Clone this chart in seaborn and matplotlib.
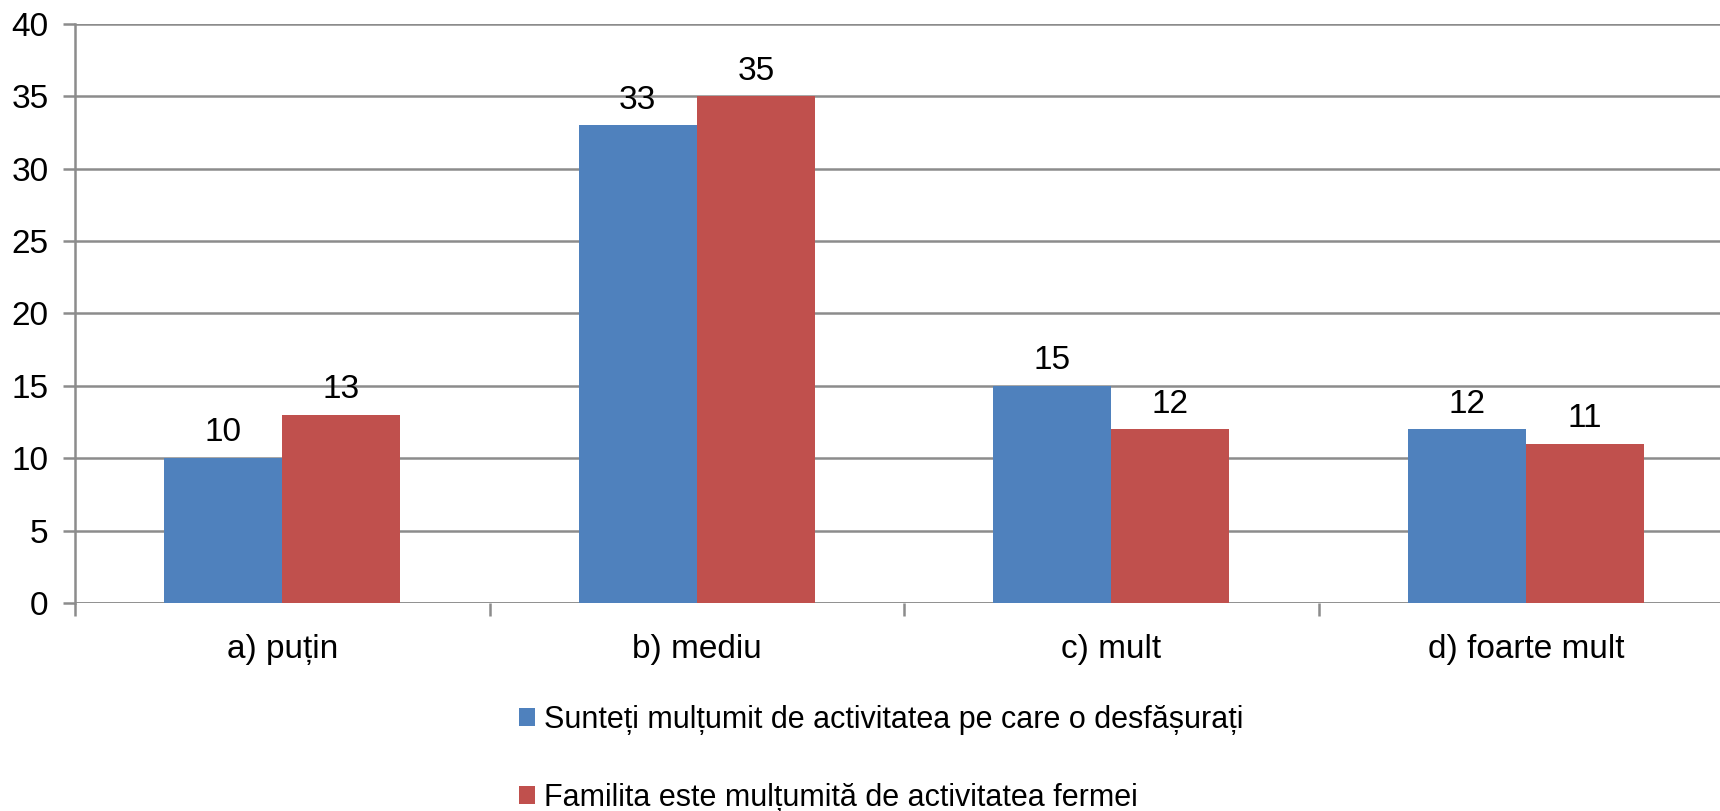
import matplotlib
matplotlib.use("Agg")
import matplotlib.pyplot as plt
from matplotlib.patches import Patch
from matplotlib.ticker import FixedLocator
import seaborn as sns
import pandas as pd

categories = ["a) puțin", "b) mediu", "c) mult", "d) foarte mult"]
series_names = [
    "Sunteți mulțumit de activitatea pe care o desfășurați",
    "Familita este mulțumită de activitatea fermei",
]
values_self = [10, 33, 15, 12]
values_family = [13, 35, 12, 11]
y_ticks = [0, 5, 10, 15, 20, 25, 30, 35, 40]

colors = ["#4F81BD", "#C0504D"]
grid_col = "#8C8C8C"

df = pd.DataFrame({
    "categorie": categories * 2,
    "serie": [series_names[0]] * 4 + [series_names[1]] * 4,
    "valoare": values_self + values_family,
})

sns.set_theme(style="white")
plt.rcParams["font.family"] = ["Liberation Sans", "DejaVu Sans"]

fig = plt.figure(figsize=(17.2, 8.11), dpi=100)
ax = fig.add_axes([0.0436, 0.2565, 0.964, 0.714])

sns.barplot(data=df, x="categorie", y="valoare", hue="serie",
            order=categories, hue_order=series_names, palette=colors,
            width=0.57, gap=0, saturation=1, linewidth=0, ax=ax,
            legend=False, zorder=3)

for cont in ax.containers:
    ax.bar_label(cont, fmt="%d", padding=7, fontsize=24, color="black")

ax.set_ylim(0, 40)
ax.set_xlim(-0.5, 3.5)
ax.set_yticks(y_ticks)
ax.yaxis.grid(True, color=grid_col, linewidth=1.8, zorder=0)
ax.set_axisbelow(True)
ax.set_xlabel("")
ax.set_ylabel("")

for side in ["top", "right", "bottom"]:
    ax.spines[side].set_visible(False)
ax.spines["left"].set_color(grid_col)
ax.spines["left"].set_linewidth(1.8)
ax.axhline(0, color=grid_col, linewidth=1.8, zorder=2)

ax.tick_params(axis="y", which="major", left=True, length=9, width=1.8,
               color=grid_col, labelsize=24, pad=10, labelcolor="black")
ax.tick_params(axis="x", which="major", bottom=False, labelsize=24,
               pad=16, labelcolor="black")
ax.xaxis.set_minor_locator(FixedLocator([-0.5, 0.5, 1.5, 2.5, 3.5]))
ax.tick_params(axis="x", which="minor", bottom=True, length=9, width=1.8,
               color=grid_col)

handles = [Patch(facecolor=c, edgecolor="none") for c in colors]
fig.legend(handles, series_names, loc="upper left",
           bbox_to_anchor=(0.3017, 0.1305), frameon=False, fontsize=22,
           handlelength=0.52, handleheight=0.52, handletextpad=0.3,
           labelspacing=1.57, borderpad=0, borderaxespad=0,
           labelcolor="black")

fig.savefig("out.png", dpi=100)
